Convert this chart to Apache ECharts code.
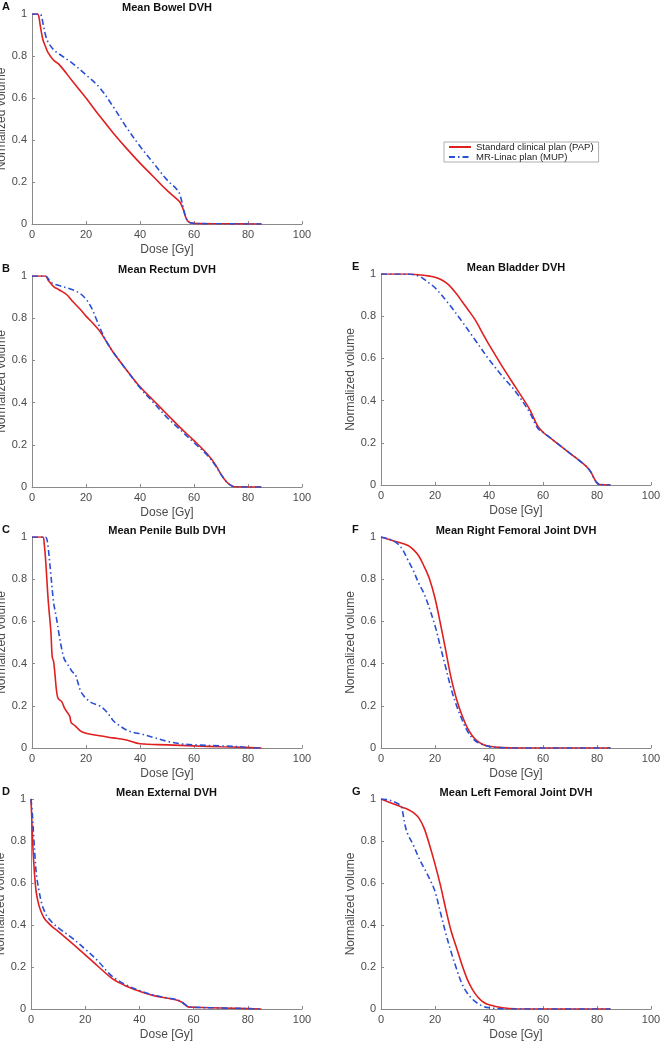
<!DOCTYPE html>
<html><head><meta charset="utf-8">
<script src="https://cdn.jsdelivr.net/npm/echarts@6/dist/echarts.min.js"></script>
<style>html,body{margin:0;padding:0;background:#fff}#c{width:660px;height:1042px}</style>
</head><body><div id="c"></div>
<script>
// Dose [Gy], normalized volume
const bowelPAP = [[0,1],[2,1],[2.5,0.99],[3,0.95],[4,0.88],[5,0.845],[6,0.815],[8,0.78],[10,0.76],[15,0.68],[20,0.6],[25,0.515],[30,0.435],[35,0.36],[40,0.29],[45,0.225],[50,0.16],[54,0.115],[55,0.1],[56,0.07],[57,0.03],[58,0.01],[60,0.003],[70,0.001],[85,0]];
const bowelMUP = [[0,1],[3,1],[3.5,0.99],[4,0.96],[5,0.9],[6,0.865],[8,0.83],[10,0.81],[15,0.765],[20,0.71],[25,0.65],[30,0.56],[35,0.46],[40,0.37],[45,0.29],[50,0.21],[54,0.16],[55,0.13],[56,0.08],[57,0.03],[58,0.01],[60,0.003],[70,0.001],[85,0]];

const rectumPAP = [[0,1],[5,1],[6,0.98],[8,0.95],[10,0.935],[13,0.91],[15,0.88],[18,0.84],[20,0.81],[23,0.77],[25,0.74],[28,0.68],[30,0.64],[35,0.555],[40,0.475],[45,0.41],[50,0.345],[55,0.28],[60,0.22],[65,0.155],[68,0.105],[70,0.06],[72,0.025],[74,0.005],[75,0.001],[85,0]];
const rectumMUP = [[0,1],[5,1],[7,0.97],[10,0.955],[15,0.935],[18,0.915],[20,0.89],[22,0.85],[24,0.79],[26,0.73],[28,0.68],[30,0.64],[35,0.555],[40,0.47],[45,0.4],[50,0.33],[55,0.27],[60,0.21],[65,0.15],[68,0.1],[70,0.06],[72,0.025],[74,0.005],[75,0.001],[85,0]];

const bulbPAP = [[0,1],[4,1],[4.5,0.97],[5,0.9],[6,0.7],[7,0.55],[7.5,0.43],[8,0.41],[8.5,0.35],[9,0.28],[9.5,0.24],[10,0.23],[11,0.22],[12,0.19],[13,0.17],[14,0.15],[14.5,0.12],[16,0.105],[18,0.08],[20,0.07],[25,0.058],[30,0.048],[35,0.038],[40,0.02],[50,0.015],[60,0.01],[70,0.006],[78,0.003],[85,0]];
const bulbMUP = [[0,1],[5,1],[5.5,0.99],[6,0.95],[7,0.82],[8,0.69],[9,0.62],[10,0.54],[11,0.47],[12,0.42],[13,0.4],[14,0.38],[15,0.36],[16,0.35],[17,0.31],[18,0.27],[19,0.25],[20,0.235],[22,0.215],[25,0.2],[27,0.18],[29,0.15],[30,0.13],[32,0.11],[35,0.085],[38,0.072],[40,0.068],[45,0.05],[50,0.032],[55,0.02],[60,0.015],[70,0.01],[78,0.005],[80,0.001],[85,0]];

const externalPAP = [[0,1],[0.3,0.9],[0.6,0.8],[1,0.7],[1.5,0.61],[2,0.55],[3,0.49],[4,0.455],[5,0.43],[6,0.415],[8,0.39],[10,0.37],[15,0.315],[20,0.258],[25,0.2],[30,0.145],[35,0.11],[40,0.085],[45,0.065],[50,0.052],[54,0.042],[56,0.03],[58,0.01],[60,0.008],[70,0.005],[80,0.002],[85,0]];
const externalMUP = [[0,1],[0.5,0.93],[1,0.82],[1.5,0.72],[2,0.64],[3,0.56],[4,0.5],[5,0.465],[6,0.44],[8,0.41],[10,0.387],[15,0.34],[20,0.285],[25,0.225],[28,0.18],[30,0.155],[35,0.115],[40,0.088],[45,0.067],[50,0.053],[54,0.044],[56,0.03],[58,0.012],[60,0.008],[70,0.005],[80,0.002],[85,0]];

const bladderPAP = [[0,1],[10,1],[15,0.995],[18,0.99],[20,0.985],[22,0.975],[25,0.95],[28,0.905],[30,0.87],[32,0.835],[35,0.78],[38,0.71],[40,0.665],[45,0.56],[50,0.46],[55,0.36],[58,0.28],[60,0.25],[62,0.23],[65,0.2],[70,0.15],[75,0.1],[77,0.075],[78,0.055],[79,0.03],[80,0.01],[81,0.002],[85,0]];
const bladderMUP = [[0,1],[10,1],[14,0.99],[16,0.975],[18,0.955],[20,0.935],[25,0.86],[30,0.775],[35,0.685],[40,0.595],[45,0.515],[50,0.44],[55,0.345],[58,0.27],[60,0.25],[62,0.23],[65,0.2],[70,0.15],[75,0.1],[77,0.075],[78,0.055],[79,0.03],[80,0.01],[81,0.002],[85,0]];

const rightFemPAP = [[0,1],[5,0.98],[10,0.96],[12,0.94],[14,0.91],[16,0.86],[18,0.8],[20,0.71],[22,0.59],[24,0.46],[26,0.33],[28,0.23],[30,0.155],[32,0.095],[34,0.055],[36,0.03],[38,0.015],[40,0.008],[45,0.002],[50,0],[85,0]];
const rightFemMUP = [[0,1],[3,0.99],[6,0.97],[8,0.94],[10,0.89],[12,0.84],[14,0.78],[16,0.73],[18,0.66],[20,0.58],[22,0.48],[24,0.38],[26,0.28],[28,0.2],[30,0.135],[32,0.08],[34,0.045],[36,0.025],[40,0.007],[45,0.001],[50,0],[85,0]];

const leftFemPAP = [[0,1],[5,0.975],[8,0.96],[10,0.95],[12,0.935],[14,0.91],[16,0.86],[18,0.78],[20,0.69],[22,0.59],[24,0.475],[26,0.37],[28,0.29],[30,0.21],[32,0.14],[34,0.09],[36,0.055],[38,0.032],[40,0.02],[45,0.006],[50,0.001],[85,0]];
const leftFemMUP = [[0,1],[3,0.995],[6,0.98],[7.5,0.965],[8,0.94],[9,0.87],[10,0.83],[12,0.78],[14,0.72],[16,0.67],[18,0.62],[20,0.56],[22,0.46],[24,0.36],[26,0.27],[28,0.19],[30,0.12],[32,0.075],[34,0.045],[36,0.025],[38,0.012],[40,0.006],[45,0.001],[50,0],[85,0]];

const panelTitles = ['Mean Bowel DVH','Mean Rectum DVH','Mean Penile Bulb DVH','Mean External DVH','Mean Bladder DVH','Mean Right Femoral Joint DVH','Mean Left Femoral Joint DVH'];
const panelLetters = ['A','B','C','D','E','F','G'];
const seriesNames = ['Standard clinical plan (PAP)','MR-Linac plan (MUP)'];
const panelData = [[bowelPAP,bowelMUP],[rectumPAP,rectumMUP],[bulbPAP,bulbMUP],[externalPAP,externalMUP],[bladderPAP,bladderMUP],[rightFemPAP,rightFemMUP],[leftFemPAP,leftFemMUP]];

const grids = [
  {left:32,top:14,width:270,height:210},
  {left:32,top:276,width:270,height:211},
  {left:32,top:537,width:270,height:211},
  {left:31,top:799,width:271,height:210},
  {left:381,top:274,width:270,height:211},
  {left:381,top:537,width:270,height:211},
  {left:381,top:799,width:270,height:210}
].map(g=>Object.assign(g,{containLabel:false,outerBoundsMode:'none'}));
const letterX = [2,2,2,2,352,352,352];

const axisCol = '#8a8a8a', labCol = '#4a4a4a', font = 'Liberation Sans, Arial, Helvetica, sans-serif';
const titles = [], xAxes = [], yAxes = [], series = [];
grids.forEach((g,i)=>{
  titles.push({text:panelTitles[i],left:g.left+g.width/2,top:g.top-12,textAlign:'center',
    textStyle:{fontSize:11,fontWeight:'bold',color:'#111',fontFamily:font},padding:0});
  titles.push({text:panelLetters[i],left:letterX[i],top:g.top-13,
    textStyle:{fontSize:11,fontWeight:'bold',color:'#111',fontFamily:font},padding:0});
  xAxes.push({gridIndex:i,type:'value',min:0,max:100,interval:20,name:'Dose [Gy]',nameLocation:'middle',nameGap:20,
    nameTextStyle:{fontSize:12,color:labCol,fontFamily:font},
    axisLine:{show:true,lineStyle:{color:axisCol,width:1}},
    axisTick:{show:true,inside:true,length:3,lineStyle:{color:axisCol}},
    axisLabel:{fontSize:11,color:labCol,fontFamily:font,margin:5},splitLine:{show:false}});
  yAxes.push({gridIndex:i,type:'value',min:0,max:1,interval:0.2,name:'Normalized volume',nameLocation:'middle',nameGap:i<4?19:20,
    nameTextStyle:{fontSize:12,color:labCol,fontFamily:font},
    axisLine:{show:true,lineStyle:{color:axisCol,width:1}},
    axisTick:{show:true,inside:true,length:3,lineStyle:{color:axisCol}},
    axisLabel:{fontSize:11,color:labCol,fontFamily:font,margin:5,formatter:v=>(v===0||v===1)?String(v):v.toFixed(1)},
    splitLine:{show:false}});
  series.push({name:seriesNames[0],type:'line',xAxisIndex:i,yAxisIndex:i,data:panelData[i][0],showSymbol:false,symbol:'none',
    smooth:0.35,lineStyle:{color:'#e01f1f',width:1.6},itemStyle:{color:'#e01f1f'},z:2,animation:false});
  series.push({name:seriesNames[1],type:'line',xAxisIndex:i,yAxisIndex:i,data:panelData[i][1],showSymbol:false,symbol:'none',
    smooth:0.35,lineStyle:{color:'#2a4fd6',width:1.6,type:[6,3,1.5,3]},itemStyle:{color:'#2a4fd6'},z:3,animation:false});
});

const chart = echarts.init(document.getElementById('c'),null,{renderer:'canvas'});
chart.setOption({
  animation:false,
  backgroundColor:'#fff',
  title:titles,
  grid:grids,
  xAxis:xAxes,
  yAxis:yAxes,
  legend:{data:seriesNames,orient:'vertical',left:444,top:142,itemWidth:22,itemHeight:7,itemGap:0,
    padding:[0,5,0,4],borderColor:'#999',borderWidth:0.8,backgroundColor:'#fff',
    itemStyle:{color:'transparent',borderColor:'transparent',borderWidth:0,opacity:0},
    textStyle:{fontSize:9.5,color:'#222',fontFamily:font}},
  series:series
});
</script></body></html>
